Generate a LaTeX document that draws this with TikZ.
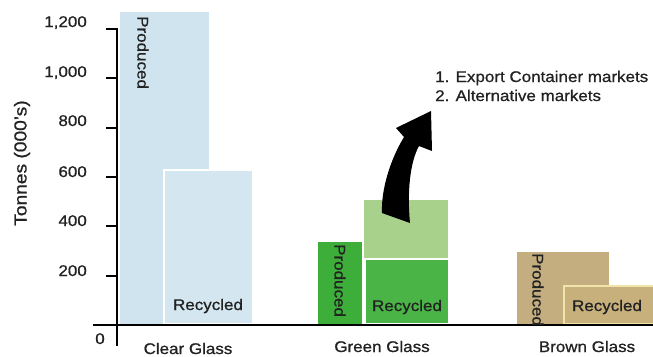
\documentclass[tikz,border=0pt]{standalone}
\usepackage{fontspec}
\setmainfont[FakeStretch=1.1,FakeBold=0.8]{Liberation Sans}
\definecolor{clearP}{HTML}{CFE4EF}
\definecolor{clearR}{HTML}{D4E7F0}
\definecolor{greenP}{HTML}{3DAE3A}
\definecolor{greenR}{HTML}{4AB546}
\definecolor{greenT}{HTML}{A8D18C}
\definecolor{brownP}{HTML}{C4AE7F}
\definecolor{brownR}{HTML}{C8B07C}
\definecolor{brownE}{HTML}{F0E4AA}
\definecolor{txt}{HTML}{222222}
\begin{document}
\begin{tikzpicture}[x=1bp,y=-1bp,
  lbl/.style={font=\fontsize{15.5}{18}\selectfont, text=txt, inner sep=0pt},
  vlbl/.style={lbl, rotate=-90, anchor=west},
  ticklbl/.style={lbl, anchor=base east},
  axisline/.style={line width=2.6bp, black},
  tickline/.style={line width=2bp, black}]
\useasboundingbox (0,0) rectangle (653,356);
\fill[white] (0,0) rectangle (653,356);
% bars
\fill[clearP] (120,12) rectangle (209,325);
\filldraw[fill=clearR, draw=white, line width=1.5bp] (164,170) rectangle (253,324);
\fill[greenP] (318,242) rectangle (362,325);
\fill[greenT] (364,200) rectangle (448,258);
\filldraw[fill=greenR, draw=white, line width=1.5bp] (365,259) rectangle (449,324);
\fill[brownP] (517,252) rectangle (609,325);
\filldraw[fill=brownR, draw=brownE, line width=1.5bp] (564,286) rectangle (655,324);
% axes
\coordinate (ytop) at (117,28);
\coordinate (ybot) at (117,346);
\coordinate (xl) at (93,325);
\coordinate (xr) at (653,325);
\draw[axisline] (ytop) -- (ybot);
\draw[axisline] (xl) -- (xr);
\foreach \v/\yy in {1200/29,1000/78.3,800/127.7,600/177,400/226.3,200/275.7}{
  \coordinate (t\v) at (106,\yy);
  \draw[tickline] (t\v) -- ++(11,0);
}
\node[ticklbl] (l1200) at (87,27) {1,200};
\node[ticklbl] (l1000) at (87,77) {1,000};
\node[ticklbl] (l800) at (87,126) {800};
\node[ticklbl] (l600) at (87,177) {600};
\node[ticklbl] (l400) at (87,226) {400};
\node[ticklbl] (l200) at (87,276) {200};
\node[lbl, anchor=base] (l0) at (100,344) {0};
\node[lbl, rotate=90, font=\fontsize{17.5}{20}\selectfont] (ylab) at (22,163) {Tonnes (000's)};
% bar labels
\node[vlbl] (cp) at (143,16) {Produced};
\node[vlbl] (gp) at (340,244) {Produced};
\node[vlbl] (bp) at (538,253) {Produced};
\node[lbl, anchor=base] (cr) at (208,310) {Recycled};
\node[lbl, anchor=base] (gr) at (407,311) {Recycled};
\node[lbl, anchor=base] (br) at (607,311) {Recycled};
% categories
\node[lbl, anchor=base] (cg) at (188,354) {Clear Glass};
\node[lbl, anchor=base] (gg) at (382,352) {Green Glass};
\node[lbl, anchor=base] (bg) at (587,352) {Brown Glass};
% legend text
\node[lbl, anchor=base west] (m1) at (435,82) {1. Export Container markets};
\node[lbl, anchor=base west] (m2) at (435,101) {2. Alternative markets};
% arrow
\fill[black] (431,111) -- (396,128) -- (404,137)
  .. controls (390,160) and (381,190) .. (382,213)
  -- (410,223)
  .. controls (407,192) and (410,162) .. (419,146)
  -- (432,151) -- cycle;
\end{tikzpicture}
\end{document}
